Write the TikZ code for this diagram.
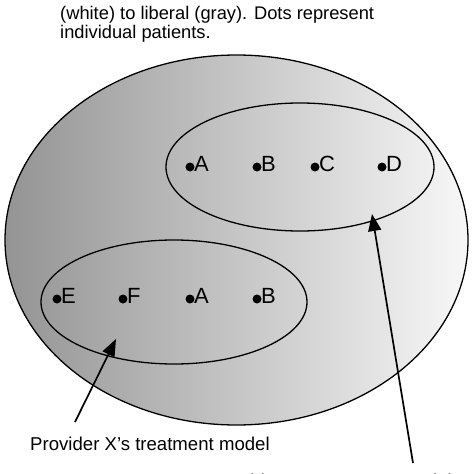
\documentclass[tikz,border=0pt]{standalone}
\usepackage{fontspec}
\setmainfont{Liberation Sans}
\usetikzlibrary{arrows.meta,shapes.geometric}
\begin{document}
\begin{tikzpicture}[x=1pt,y=-1pt,
  ell/.style={draw=black,line width=1.3pt},
  dot/.style={circle,fill=black,inner sep=0pt,minimum size=9pt},
  lbl/.style={anchor=west,inner sep=0pt,font=\fontsize{22}{24}\selectfont},
  ptr/.style={draw=black,line width=1.7pt,-{Triangle[length=17pt,width=13pt]}},
  txt/.style={inner sep=0pt,anchor=base west,font=\fontsize{18.6}{20}\selectfont}]
\useasboundingbox (0,0) rectangle (474,474);
\fill[white] (0,0) rectangle (474,474);
% big ellipse with gradient
\shade[left color=black!42,right color=black!3] (236.5,240) ellipse [x radius=231.5,y radius=185];
\draw[ell] (236.5,240) ellipse [x radius=231.5,y radius=185];
% inner ellipses
\node[ell,ellipse,minimum width=268pt,minimum height=128pt,inner sep=0pt] (ey) at (300,167) {};
\node[ell,ellipse,minimum width=266pt,minimum height=124pt,inner sep=0pt] (ex) at (174,302) {};
% right group
\node[dot] (dA1) at (190,167) {}; \node[lbl] (lA1) at (194,164) {A};
\node[dot] (dB1) at (257,167) {}; \node[lbl] (lB1) at (261,164) {B};
\node[dot] (dC1) at (315,167) {}; \node[lbl] (lC1) at (319,164) {C};
\node[dot] (dD1) at (382,167) {}; \node[lbl] (lD1) at (386,164) {D};
% left group
\node[dot] (dE) at (57,299) {}; \node[lbl] (lE) at (61,296) {E};
\node[dot] (dF) at (123,299) {}; \node[lbl] (lF) at (127,296) {F};
\node[dot] (dA2) at (190,299) {}; \node[lbl] (lA2) at (194,296) {A};
\node[dot] (dB2) at (257,299) {}; \node[lbl] (lB2) at (261,296) {B};
% top caption
\node[txt,font=\fontsize{18.3}{19.5}\selectfont,align=left,anchor=north west] (cap) at (60,6)
  {(white) to liberal (gray). Dots represent\\individual patients.};
% bottom labels
\node[txt] (px) at (30,450) {Provider X's treatment model};
\node[txt] (py) at (212,487) {Provider Y's treatment model};
% pointers
\coordinate (sx) at (75,422);
\coordinate (tx) at (116,339);
\coordinate (sy) at (413,463);
\coordinate (ty) at (372,214);
\draw[ptr] (sx) -- (tx);
\draw[ptr] (sy) -- (ty);
\end{tikzpicture}
\end{document}
